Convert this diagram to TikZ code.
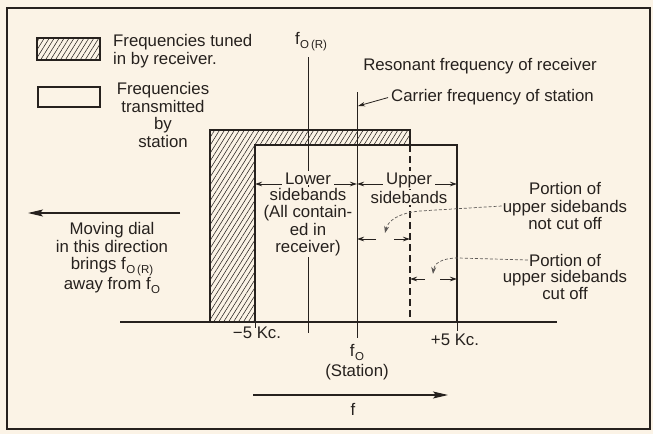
\documentclass[tikz,border=0pt]{standalone}
\usepackage{fontspec}
\setmainfont{Liberation Sans}
\usetikzlibrary{arrows.meta,patterns.meta,positioning}
\definecolor{papercream}{RGB}{251,243,230}
\definecolor{inkdark}{RGB}{38,33,30}
\newcommand{\fsubs}[1]{f\kern0.5pt\raisebox{-4pt}{\fontsize{11.5}{12}\selectfont #1}}

\begin{document}
\begin{tikzpicture}[x=1pt,y=-1pt,
  every node/.style={font=\fontsize{16.8}{17.5}\selectfont, text=inkdark, align=center, inner sep=1pt},
  bandline/.style={draw=inkdark, line width=2.4pt},
  thinline/.style={draw=inkdark, line width=0.9pt},
  dimarrow/.style={draw=inkdark, line width=0.8pt, shorten <=2pt, -{Stealth[length=7pt,width=4.5pt]}},
  leader/.style={draw=inkdark!75, line width=0.7pt, dash pattern=on 3pt off 2pt, -{Stealth[length=7pt,width=5pt]}},
  bigarrow/.style={draw=inkdark, line width=1.1pt, -{Stealth[length=15pt,width=7pt,inset=3pt]}},
  hatch/.style={pattern={Lines[angle=58,distance=4.2pt,line width=0.55pt]}, pattern color=inkdark},
  blank/.style={fill=papercream}]
\fill[papercream] (0,0) rectangle (653,434);
\useasboundingbox (0,0) rectangle (653,434);
\draw[inkdark, line width=2.6pt] (7,8) rectangle (650,429);

\draw[bandline, hatch] (37,38) rectangle (100,60);
\draw[bandline] (38,87) rectangle (100,107);
\node[anchor=west, align=left] (keyrcv) at (112,51) {Frequencies tuned\\in by receiver.};
\node (keystn) at (163,115) {Frequencies\\transmitted\\by\\station};

\coordinate (stnL) at (255,322);
\coordinate (stnR) at (457,322);
\coordinate (cutoff) at (410,322);
\coordinate (carrier) at (357,322);
\coordinate (resfreq) at (308,322);

\fill[hatch] (210,322) -- (210,130) -- (410,130) -- (410,145) -- (255,145) -- (stnL) -- cycle;
\draw[bandline] (210,322) -- (210,130) -- (410,130) -- (410,145);
\draw[bandline] (stnL) -- (255,145) -- (457,145) -- (stnR);
\draw[inkdark, line width=1.6pt, dash pattern=on 7pt off 4pt] (410,145) -- (cutoff);
\draw[inkdark, line width=1.1pt] (120,322) -- (557,322);
\draw[thinline] (308,57) -- (308,333);
\draw[thinline] (357,92) -- (357,338);
\foreach \x/\y in {255/328, 457/331} \draw[thinline] (\x,322) -- (\x,\y);

\node (fRlbl) at (311,42) {\fsubs{O\,(R)}};
\node (reslbl) at (480,66) {Resonant frequency of receiver};
\node[anchor=west] (carrierlbl) at (390,97) {Carrier frequency of station};
\coordinate (carrierpt) at (358,106);
\draw[dimarrow] (carrierlbl.west) -- (carrierpt);

\node[anchor=base, blank] (lowerlbl) at (308,184) {Lower};
\node[below=1.5pt of lowerlbl, blank] (lowernote) {sidebands\\(All contain-\\ed in\\receiver)};
\draw[dimarrow] (lowerlbl.base west) -- (lowerlbl.base west -| stnL);
\draw[dimarrow] (lowerlbl.base east) -- (lowerlbl.base east -| carrier);
\node[anchor=base, blank] (upperlbl) at (409,184) {Upper};
\node[below=1.5pt of upperlbl, blank] (uppernote) {sidebands};
\draw[dimarrow] (upperlbl.base west) -- (upperlbl.base west -| carrier);
\draw[dimarrow] (upperlbl.base east) -- (upperlbl.base east -| stnR);

\coordinate (ncgap) at (385,239);
\draw[dimarrow] ([xshift=-7pt]ncgap) -- (ncgap -| carrier);
\draw[dimarrow] ([xshift=7pt]ncgap) -- (ncgap -| cutoff);
\coordinate (cogap) at (432,279);
\draw[dimarrow] ([xshift=-5pt]cogap) -- (cogap -| cutoff);
\draw[dimarrow] ([xshift=6pt]cogap) -- (cogap -| stnR);

\node (pnc) at (565,206) {Portion of\\upper sidebands\\not cut off};
\coordinate (nctip) at (385,233);
\draw[leader] (pnc.west) -- (420,211) .. controls (398,213) and (388,221) .. (nctip);
\node (pcohead) at (565,260) {Portion of};
\node[below=1.5pt of pcohead] (pcobody) {upper sidebands\\cut off};
\coordinate (cotip) at (433,274);
\draw[leader] (pcohead.west) -- (458,258) .. controls (441,258) and (434,264) .. (cotip);

\coordinate (dialtail) at (180,213);
\coordinate (dialhead) at (28,213);
\draw[bigarrow] (dialtail) -- (dialhead);
\node (dialtxt) at (112,258) {Moving dial\\in this direction\\brings \fsubs{O\,(R)}\\away from \fsubs{O}};

\node (minuskc) at (257,333) {−5 Kc.};
\node (pluskc) at (455,340) {+5 Kc.};
\node (f0lbl) at (357,352) {\fsubs{O}};
\node[below=2pt of f0lbl] (stnlbl) {(Station)};
\coordinate (ftail) at (253,395);
\coordinate (fhead) at (448,395);
\draw[bigarrow] (ftail) -- (fhead);
\node (faxis) at (353,409) {f};
\end{tikzpicture}
\end{document}
